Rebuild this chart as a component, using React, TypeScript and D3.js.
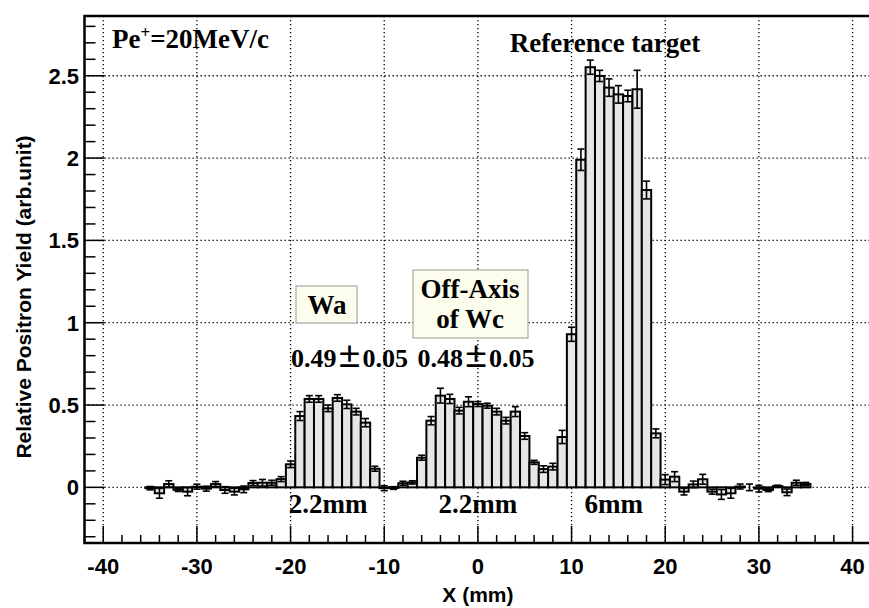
import React, { useEffect, useRef } from 'react';
import * as d3 from 'd3';

// 1 mm bins centred on integer positions
const binCenters = d3.range(-35, 36);

const yieldValues = [
  -0.005, -0.036, 0.02, -0.015, -0.026, 0.004, -0.008, 0.02, -0.016, -0.026,
  -0.012, 0.026, 0.028, 0.028, 0.05, 0.14, 0.433, 0.537, 0.537, 0.48,
  0.543, 0.504, 0.46, 0.393, 0.113, -0.005, -0.004, 0.025, 0.03, 0.18,
  0.405, 0.557, 0.537, 0.466, 0.52, 0.506, 0.496, 0.46, 0.405, 0.46,
  0.312, 0.152, 0.111, 0.126, 0.306, 0.93, 1.99, 2.552, 2.499, 2.428,
  2.387, 2.377, 2.418, 1.806, 0.328, 0.047, 0.065, -0.026, 0.018, 0.049,
  -0.026, -0.043, -0.036, 0.005, 0.0, -0.008, -0.016, 0.008, -0.03, 0.028,
  0.02
];

const yieldErrors = [
  0.01, 0.03, 0.02, 0.01, 0.025, 0.015, 0.015, 0.015, 0.02, 0.02,
  0.02, 0.015, 0.02, 0.015, 0.015, 0.02, 0.027, 0.02, 0.02, 0.02,
  0.02, 0.025, 0.02, 0.025, 0.015, 0.015, 0.008, 0.012, 0.01, 0.015,
  0.025, 0.045, 0.028, 0.02, 0.03, 0.015, 0.015, 0.02, 0.02, 0.03,
  0.02, 0.012, 0.02, 0.02, 0.04, 0.043, 0.065, 0.043, 0.034, 0.053,
  0.053, 0.035, 0.115, 0.054, 0.027, 0.03, 0.03, 0.02, 0.02, 0.03,
  0.015, 0.03, 0.03, 0.015, 0.02, 0.02, 0.01, 0.005, 0.02, 0.015,
  0.01
];

const xTicks = [-40, -30, -20, -10, 0, 10, 20, 30, 40];
const yTicks = [0, 0.5, 1, 1.5, 2, 2.5];
const yTickLabels = ['0', '0.5', '1', '1.5', '2', '2.5'];

const sizeLabels = [
  { text: '2.2mm', x: -16 },
  { text: '2.2mm', x: 0 },
  { text: '6mm', x: 14.5 },
];
const yieldLabels = [
  { text: '0.49', err: '0.05', x: -13.7 },
  { text: '0.48', err: '0.05', x: -0.2 },
];

const W = 869;
const H = 608;

export default function App() {
  const svgRef = useRef<SVGSVGElement>(null);

  useEffect(() => {
    document.body.style.margin = '0';
    if (!svgRef.current) return;
    const svg = d3.select(svgRef.current);
    svg.selectAll('*').remove();

    const left = 84.5, top = 16, bottom = 543, right = 871.3;
    const x = d3.scaleLinear().domain([-42, 42]).range([left, right]);
    const y = d3.scaleLinear().domain([-0.338, 2.863]).range([bottom, top]);

    const serif = '"Liberation Serif", "Times New Roman", serif';
    const sans = '"Liberation Sans", Arial, sans-serif';

    svg.append('rect').attr('width', W).attr('height', H).attr('fill', 'white');

    // grid
    const grid = svg.append('g')
      .attr('stroke', 'black')
      .attr('stroke-width', 1.3)
      .attr('stroke-dasharray', '1.3 2.7');
    xTicks.forEach(t => {
      grid.append('line').attr('x1', x(t)).attr('x2', x(t)).attr('y1', top).attr('y2', bottom);
    });
    yTicks.forEach(t => {
      grid.append('line').attr('x1', left).attr('x2', right).attr('y1', y(t)).attr('y2', y(t));
    });

    // bars
    const bw = x(1) - x(0);
    const bars = svg.append('g');
    binCenters.forEach((c, i) => {
      const v = yieldValues[i];
      bars.append('rect')
        .attr('x', x(c) - bw / 2)
        .attr('width', bw)
        .attr('y', Math.min(y(v), y(0)))
        .attr('height', Math.abs(y(v) - y(0)))
        .attr('fill', '#e6e6e6')
        .attr('stroke', 'black')
        .attr('stroke-width', 2);
    });

    // error bars
    const errs = svg.append('g').attr('stroke', 'black').attr('stroke-width', 1.6);
    binCenters.forEach((c, i) => {
      const v = yieldValues[i];
      const e = yieldErrors[i];
      const cx = x(c);
      errs.append('line').attr('x1', cx).attr('x2', cx).attr('y1', y(v + e)).attr('y2', y(v - e));
      [v + e, v - e].forEach(t => {
        errs.append('line').attr('x1', cx - 3.5).attr('x2', cx + 3.5).attr('y1', y(t)).attr('y2', y(t));
      });
    });

    // frame
    svg.append('rect')
      .attr('x', left).attr('y', top)
      .attr('width', right - left).attr('height', bottom - top)
      .attr('fill', 'none').attr('stroke', 'black').attr('stroke-width', 2.5);

    // y ticks
    const yt = svg.append('g').attr('stroke', 'black').attr('stroke-width', 1.5);
    d3.range(-3, 29).forEach(k => {
      const v = k / 10;
      const major = k % 5 === 0;
      yt.append('line').attr('x1', left).attr('x2', left + (major ? 20 : 11))
        .attr('y1', y(v)).attr('y2', y(v));
    });
    // x ticks
    const xt = svg.append('g').attr('stroke', 'black').attr('stroke-width', 1.5);
    d3.range(-42, 43, 2).forEach(v => {
      const major = v % 10 === 0;
      xt.append('line').attr('x1', x(v)).attr('x2', x(v))
        .attr('y1', bottom).attr('y2', bottom - (major ? 17 : 8));
    });

    // tick labels
    svg.append('g').selectAll('text').data(yTicks).enter().append('text')
      .attr('x', 79).attr('y', d => y(d)).attr('dy', '0.36em')
      .attr('text-anchor', 'end')
      .attr('font-family', sans).attr('font-weight', 'bold').attr('font-size', 22)
      .text((d, i) => yTickLabels[i]);
    svg.append('g').selectAll('text').data(xTicks).enter().append('text')
      .attr('x', d => x(d)).attr('y', 574)
      .attr('text-anchor', 'middle')
      .attr('font-family', sans).attr('font-weight', 'bold').attr('font-size', 22)
      .text(d => String(d));

    // axis titles
    svg.append('text')
      .attr('x', x(0)).attr('y', 602)
      .attr('text-anchor', 'middle')
      .attr('font-family', sans).attr('font-weight', 'bold').attr('font-size', 21)
      .text('X (mm)');
    svg.append('text')
      .attr('transform', `translate(31,297) rotate(-90)`)
      .attr('text-anchor', 'middle')
      .attr('font-family', sans).attr('font-weight', 'bold').attr('font-size', 21)
      .text('Relative Positron Yield (arb.unit)');

    // annotations
    const pe = svg.append('text')
      .attr('x', 112).attr('y', 48)
      .attr('font-family', serif).attr('font-weight', 'bold').attr('font-size', 27);
    pe.append('tspan').text('Pe');
    pe.append('tspan').attr('dy', -10).attr('font-size', 17).text('+');
    pe.append('tspan').attr('dy', 10).text('=20MeV/c');

    svg.append('text')
      .attr('x', 605).attr('y', 52)
      .attr('text-anchor', 'middle')
      .attr('font-family', serif).attr('font-weight', 'bold').attr('font-size', 27)
      .text('Reference target');

    sizeLabels.forEach(l => {
      svg.append('text')
        .attr('x', x(l.x)).attr('y', 513)
        .attr('text-anchor', 'middle')
        .attr('font-family', serif).attr('font-weight', 'bold').attr('font-size', 27)
        .text(l.text);
    });

    yieldLabels.forEach(l => {
      const t = svg.append('text')
        .attr('x', x(l.x)).attr('y', 367)
        .attr('text-anchor', 'middle')
        .attr('font-family', serif).attr('font-weight', 'bold').attr('font-size', 26);
      t.append('tspan').text(l.text);
      t.append('tspan').attr('font-family', '"Noto Sans CJK JP"').attr('font-weight', 'bold').text('±');
      t.append('tspan').text(l.err);
    });

    // pave boxes
    const box = (x0: number, y0: number, w: number, h: number) => {
      svg.append('rect').attr('x', x0).attr('y', y0).attr('width', w).attr('height', h)
        .attr('fill', '#fdfdee').attr('stroke', '#999').attr('stroke-width', 1);
    };
    box(296, 286, 61, 37);
    svg.append('text')
      .attr('x', 327).attr('y', 314)
      .attr('text-anchor', 'middle')
      .attr('font-family', serif).attr('font-weight', 'bold').attr('font-size', 27)
      .text('Wa');
    box(413, 270, 115, 68);
    ['Off-Axis', 'of Wc'].forEach((s, i) => {
      svg.append('text')
        .attr('x', 470).attr('y', 298 + i * 30)
        .attr('text-anchor', 'middle')
        .attr('font-family', serif).attr('font-weight', 'bold').attr('font-size', 27)
        .text(s);
    });
  }, []);

  return <svg ref={svgRef} width={W} height={H} style={{ display: 'block' }} />;
}
